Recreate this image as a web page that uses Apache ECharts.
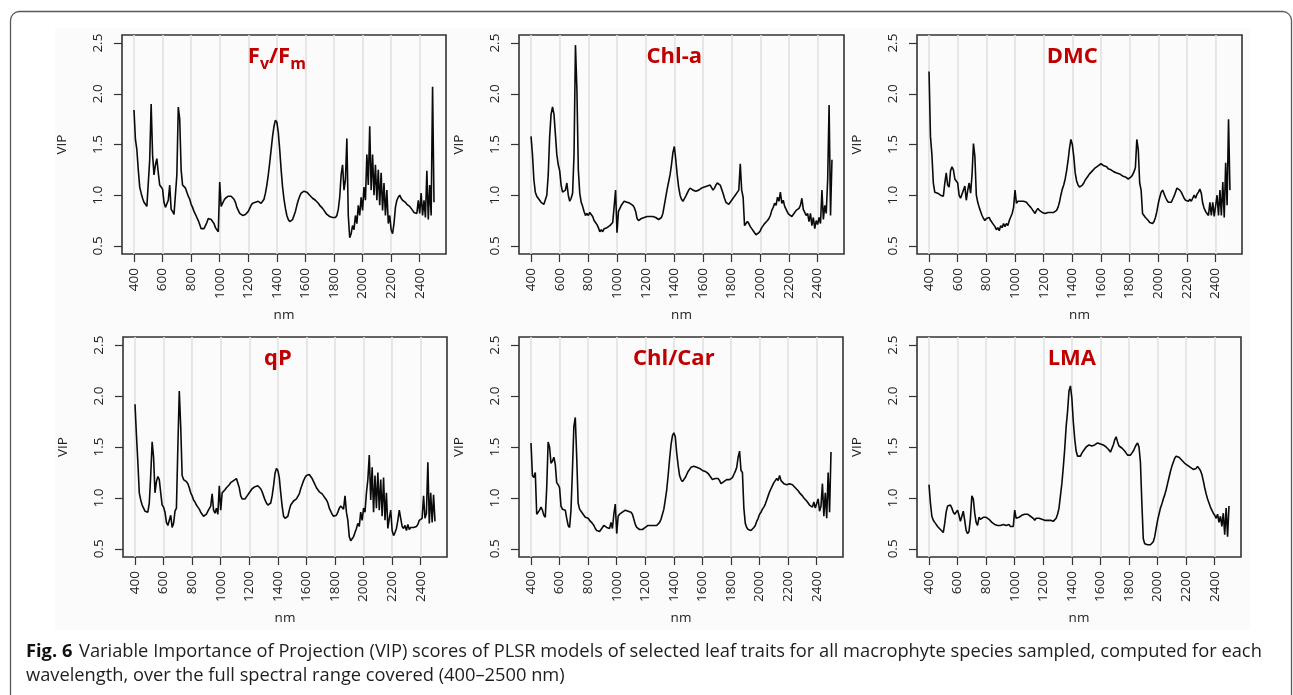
<!DOCTYPE html>
<html>
<head>
<meta charset="utf-8">
<script src="https://cdn.jsdelivr.net/npm/echarts@6/dist/echarts.min.js"></script>
<style>
  html, body { margin: 0; padding: 0; background: #fff; }
  #chart { width: 1293px; height: 695px; }
</style>
</head>
<body>
<div id="chart"></div>
<script>
// Wavelength grid (nm), one entry per VIP value
const wavelengths = [
  400, 410, 420, 430, 440, 450, 460, 470, 480, 490,
  500, 510, 520, 530, 540, 550, 560, 570, 580, 590,
  600, 610, 620, 630, 640, 650, 660, 670, 680, 690,
  700, 710, 720, 730, 740, 750, 760, 770, 780, 790,
  800, 810, 820, 830, 840, 850, 860, 870, 880, 890,
  900, 910, 920, 930, 940, 950, 960, 970, 980, 990,
  1000, 1010, 1020, 1030, 1040, 1050, 1060, 1070, 1080, 1090,
  1100, 1110, 1120, 1130, 1140, 1150, 1160, 1170, 1180, 1190,
  1200, 1210, 1220, 1230, 1240, 1250, 1260, 1270, 1280, 1290,
  1300, 1310, 1320, 1330, 1340, 1350, 1360, 1370, 1380, 1390,
  1400, 1410, 1420, 1430, 1440, 1450, 1460, 1470, 1480, 1490,
  1500, 1510, 1520, 1530, 1540, 1550, 1560, 1570, 1580, 1590,
  1600, 1610, 1620, 1630, 1640, 1650, 1660, 1670, 1680, 1690,
  1700, 1710, 1720, 1730, 1740, 1750, 1760, 1770, 1780, 1790,
  1800, 1810, 1820, 1830, 1840, 1850, 1860, 1870, 1880, 1890,
  1900, 1910, 1920, 1930, 1940, 1950, 1960, 1970, 1980, 1990,
  2000, 2010, 2020, 2030, 2040, 2050, 2060, 2070, 2080, 2090,
  2100, 2110, 2120, 2130, 2140, 2150, 2160, 2170, 2180, 2190,
  2200, 2210, 2220, 2230, 2240, 2250, 2260, 2270, 2280, 2290,
  2300, 2310, 2320, 2330, 2340, 2350, 2360, 2370, 2380, 2390,
  2400, 2410, 2420, 2430, 2440, 2450, 2460, 2470, 2480, 2490,
  2500
];

const xTicks = [400, 600, 800, 1000, 1200, 1400, 1600, 1800, 2000, 2200, 2400];
const yTicks = [0.5, 1.0, 1.5, 2.0, 2.5];

// VIP scores per trait
const vipFvFm = [
  1.84, 1.55, 1.45, 1.25, 1.08, 1.02, 0.97, 0.93, 0.91, 0.89,
  0.90, 1.35, 1.90, 1.40, 1.20, 1.30, 1.36, 1.22, 1.10, 1.08,
  1.06, 0.93, 0.88, 0.87, 0.95, 1.10, 0.86, 0.84, 0.81, 0.80,
  1.20, 1.87, 1.75, 1.25, 1.10, 1.09, 1.07, 1.03, 0.99, 0.96,
  0.91, 0.88, 0.84, 0.81, 0.78, 0.75, 0.71, 0.67, 0.66, 0.67,
  0.70, 0.73, 0.77, 0.78, 0.76, 0.77, 0.72, 0.68, 0.66, 0.64,
  1.13, 0.89, 0.92, 0.95, 0.97, 0.98, 0.99, 0.99, 0.99, 0.98,
  0.96, 0.93, 0.88, 0.85, 0.82, 0.81, 0.80, 0.80, 0.81, 0.82,
  0.84, 0.87, 0.90, 0.92, 0.93, 0.93, 0.93, 0.94, 0.93, 0.92,
  0.93, 0.96, 1.02, 1.10, 1.20, 1.32, 1.45, 1.58, 1.68, 1.74,
  1.72, 1.62, 1.45, 1.25, 1.08, 0.96, 0.87, 0.80, 0.76, 0.74,
  0.74, 0.76, 0.80, 0.84, 0.90, 0.95, 0.99, 1.02, 1.03, 1.04,
  1.04, 1.03, 1.02, 1.00, 0.99, 0.97, 0.96, 0.95, 0.94, 0.92,
  0.90, 0.89, 0.87, 0.85, 0.83, 0.81, 0.80, 0.79, 0.78, 0.78,
  0.77, 0.78, 0.80, 0.86, 0.98, 1.20, 1.30, 1.05, 1.15, 1.56,
  0.80, 0.58, 0.62, 0.70, 0.66, 0.80, 0.72, 0.90, 0.80, 0.98,
  0.85, 1.08, 0.95, 1.40, 1.10, 1.68, 1.05, 1.40, 1.00, 1.30,
  0.95, 1.25, 0.90, 1.22, 0.85, 1.12, 0.80, 1.05, 0.72, 0.80,
  0.66, 0.62, 0.72, 0.88, 0.95, 0.98, 1.00, 0.97, 0.95, 0.94,
  0.93, 0.91, 0.92, 0.89, 0.87, 0.85, 0.83, 0.84, 0.82, 0.95,
  0.82, 1.02, 0.80, 0.95, 0.78, 1.24, 0.76, 1.10, 0.80, 2.07,
  0.93
];

const vipChlA = [
  1.58, 1.40, 1.15, 1.03, 0.99, 0.97, 0.95, 0.93, 0.92, 0.91,
  0.92, 1.00, 1.20, 1.58, 1.80, 1.87, 1.80, 1.60, 1.40, 1.30,
  1.24, 1.10, 1.03, 1.02, 1.05, 1.12, 1.00, 0.94, 0.97, 1.02,
  1.40, 2.48, 2.05, 1.25, 1.02, 0.93, 0.89, 0.84, 0.80, 0.82,
  0.80, 0.83, 0.81, 0.79, 0.75, 0.73, 0.71, 0.68, 0.64, 0.66,
  0.64, 0.67, 0.66, 0.68, 0.67, 0.70, 0.69, 0.73, 0.72, 1.05,
  0.63, 0.84, 0.87, 0.90, 0.92, 0.94, 0.93, 0.93, 0.93, 0.92,
  0.91, 0.90, 0.88, 0.84, 0.77, 0.75, 0.76, 0.77, 0.77, 0.78,
  0.79, 0.79, 0.80, 0.79, 0.79, 0.79, 0.78, 0.78, 0.77, 0.76,
  0.77, 0.78, 0.82, 0.90, 0.98, 1.06, 1.13, 1.20, 1.30, 1.42,
  1.48, 1.35, 1.20, 1.08, 1.00, 0.96, 0.94, 0.95, 0.99, 1.02,
  1.05, 1.07, 1.06, 1.05, 1.04, 1.04, 1.05, 1.05, 1.06, 1.07,
  1.07, 1.08, 1.08, 1.09, 1.09, 1.10, 1.09, 1.05, 1.07, 1.10,
  1.12, 1.13, 1.10, 1.06, 1.02, 0.97, 0.93, 0.92, 0.91, 0.93,
  0.95, 0.97, 0.99, 1.01, 1.03, 1.05, 1.31, 1.05, 0.98, 0.70,
  0.72, 0.74, 0.72, 0.69, 0.67, 0.65, 0.63, 0.61, 0.61, 0.63,
  0.65, 0.68, 0.70, 0.72, 0.73, 0.75, 0.77, 0.80, 0.85, 0.88,
  0.92, 0.90, 0.98, 0.94, 1.03, 0.92, 0.95, 0.89, 0.86, 0.83,
  0.81, 0.80, 0.79, 0.81, 0.83, 0.85, 0.84, 0.87, 0.90, 0.97,
  0.86, 0.83, 0.80, 0.82, 0.74, 0.82, 0.70, 0.78, 0.67, 0.75,
  0.71, 0.78, 0.72, 1.05, 0.76, 0.90, 0.82, 1.15, 1.89, 0.80,
  1.35
];

const vipDMC = [
  2.22, 1.58, 1.40, 1.12, 1.03, 1.02, 1.02, 1.01, 1.00, 0.99,
  0.99, 1.12, 1.22, 1.10, 1.08, 1.24, 1.28, 1.25, 1.16, 1.14,
  1.12, 1.00, 0.97, 0.96, 1.05, 1.09, 0.95, 1.05, 1.12, 1.02,
  1.20, 1.51, 1.38, 1.00, 0.93, 0.88, 0.84, 0.80, 0.77, 0.75,
  0.77, 0.76, 0.78, 0.75, 0.76, 0.71, 0.69, 0.66, 0.68, 0.65,
  0.70, 0.68, 0.72, 0.69, 0.72, 0.70, 0.75, 0.74, 0.82, 0.88,
  1.05, 0.92, 0.94, 0.95, 0.94, 0.94, 0.94, 0.93, 0.93, 0.91,
  0.90, 0.88, 0.86, 0.84, 0.82, 0.85, 0.87, 0.85, 0.84, 0.83,
  0.83, 0.82, 0.82, 0.83, 0.83, 0.83, 0.83, 0.83, 0.84, 0.85,
  0.88, 0.93, 1.00, 1.06, 1.10, 1.16, 1.24, 1.34, 1.46, 1.55,
  1.50, 1.38, 1.22, 1.14, 1.10, 1.08, 1.09, 1.10, 1.12, 1.15,
  1.17, 1.19, 1.21, 1.22, 1.24, 1.25, 1.27, 1.28, 1.29, 1.30,
  1.31, 1.30, 1.29, 1.28, 1.28, 1.26, 1.25, 1.25, 1.24, 1.23,
  1.23, 1.22, 1.22, 1.21, 1.20, 1.19, 1.18, 1.18, 1.17, 1.16,
  1.15, 1.18, 1.20, 1.23, 1.27, 1.55, 1.45, 1.12, 1.05, 0.82,
  0.80, 0.78, 0.77, 0.75, 0.73, 0.72, 0.72, 0.74, 0.78, 0.84,
  0.92, 0.98, 1.03, 1.05, 1.04, 0.98, 0.95, 0.93, 0.92, 0.93,
  0.96, 0.99, 1.03, 1.07, 1.07, 1.05, 1.03, 1.00, 0.97, 0.95,
  0.95, 0.94, 0.96, 0.94, 0.97, 1.00, 0.97, 1.01, 1.03, 1.06,
  1.02, 0.92, 0.87, 0.84, 0.82, 0.80, 0.93, 0.80, 0.93, 0.79,
  0.78, 1.00, 0.80, 1.05, 0.80, 1.13, 0.78, 1.32, 0.90, 1.75,
  1.05
];

const vipQP = [
  1.92, 1.62, 1.35, 1.05, 0.98, 0.93, 0.90, 0.87, 0.86, 0.86,
  0.95, 1.22, 1.55, 1.40, 1.05, 1.16, 1.21, 1.18, 1.05, 0.93,
  0.91, 0.86, 0.76, 0.73, 0.72, 0.83, 0.71, 0.75, 0.87, 0.90,
  1.50, 2.05, 1.70, 1.22, 1.18, 1.17, 1.16, 1.14, 1.10, 1.05,
  1.02, 0.98, 0.96, 0.93, 0.91, 0.89, 0.86, 0.84, 0.82, 0.81,
  0.84, 0.87, 0.86, 0.92, 1.04, 0.88, 0.85, 0.90, 0.84, 1.12,
  0.88, 1.05, 1.06, 1.08, 1.10, 1.11, 1.13, 1.15, 1.16, 1.17,
  1.18, 1.19, 1.18, 1.10, 1.02, 0.99, 0.98, 0.99, 1.01, 1.03,
  1.05, 1.07, 1.09, 1.10, 1.11, 1.11, 1.12, 1.11, 1.09, 1.06,
  1.02, 0.98, 0.95, 0.93, 0.93, 0.95, 1.02, 1.12, 1.24, 1.29,
  1.27, 1.20, 1.05, 0.92, 0.82, 0.80, 0.79, 0.82, 0.88, 0.93,
  0.95, 0.97, 0.98, 0.99, 1.00, 1.04, 1.09, 1.13, 1.17, 1.20,
  1.22, 1.23, 1.23, 1.22, 1.19, 1.16, 1.13, 1.10, 1.08, 1.06,
  1.05, 1.04, 1.02, 1.00, 0.98, 0.95, 0.90, 0.87, 0.84, 0.82,
  0.82, 0.83, 0.86, 0.90, 0.92, 0.91, 0.89, 1.02, 0.86, 0.78,
  0.62, 0.58, 0.60, 0.62, 0.66, 0.70, 0.75, 0.72, 0.86, 0.78,
  0.90, 0.86, 1.05, 1.18, 1.42, 0.98, 1.30, 0.86, 1.22, 0.90,
  1.25, 0.88, 1.18, 0.82, 1.20, 0.78, 1.05, 0.70, 0.80, 0.88,
  0.68, 0.63, 0.66, 0.70, 0.78, 0.88, 0.80, 0.72, 0.70, 0.73,
  0.68, 0.74, 0.69, 0.71, 0.70, 0.71, 0.71, 0.72, 0.74, 0.78,
  0.79, 0.80, 1.02, 0.80, 0.85, 1.35, 0.75, 1.05, 0.76, 1.03,
  0.77
];

const vipChlCar = [
  1.54, 1.22, 1.20, 1.25, 0.84, 0.86, 0.88, 0.91, 0.88, 0.83,
  0.81, 1.10, 1.55, 1.50, 1.34, 1.36, 1.40, 1.33, 1.15, 1.13,
  1.10, 0.92, 0.89, 0.88, 0.88, 0.80, 0.73, 0.71, 0.88, 1.27,
  1.70, 1.79, 1.40, 0.95, 0.89, 0.87, 0.86, 0.83, 0.81, 0.80,
  0.80, 0.78, 0.77, 0.75, 0.73, 0.70, 0.68, 0.67, 0.67, 0.68,
  0.71, 0.73, 0.72, 0.71, 0.72, 0.70, 0.76, 0.70, 0.84, 0.94,
  0.65, 0.82, 0.84, 0.85, 0.86, 0.87, 0.88, 0.87, 0.87, 0.86,
  0.86, 0.84, 0.79, 0.74, 0.71, 0.70, 0.69, 0.68, 0.69, 0.70,
  0.71, 0.72, 0.73, 0.73, 0.73, 0.73, 0.73, 0.73, 0.73, 0.74,
  0.76, 0.79, 0.84, 0.89, 0.98, 1.08, 1.22, 1.38, 1.52, 1.61,
  1.64, 1.60, 1.44, 1.32, 1.22, 1.18, 1.16, 1.17, 1.20, 1.23,
  1.26, 1.28, 1.30, 1.31, 1.31, 1.30, 1.30, 1.29, 1.29, 1.28,
  1.27, 1.27, 1.26, 1.25, 1.24, 1.22, 1.20, 1.18, 1.18, 1.19,
  1.20, 1.19, 1.17, 1.14, 1.14, 1.16, 1.17, 1.18, 1.18, 1.18,
  1.19, 1.20, 1.23, 1.26, 1.30, 1.40, 1.46, 1.27, 1.25, 0.90,
  0.75, 0.71, 0.69, 0.68, 0.68, 0.69, 0.71, 0.73, 0.77, 0.80,
  0.84, 0.86, 0.89, 0.91, 0.94, 0.98, 1.02, 1.06, 1.09, 1.12,
  1.15, 1.17, 1.19, 1.17, 1.22, 1.17, 1.16, 1.14, 1.14, 1.13,
  1.13, 1.14, 1.14, 1.13, 1.12, 1.10, 1.09, 1.07, 1.05, 1.04,
  1.02, 1.00, 0.99, 0.97, 0.95, 0.93, 0.92, 0.91, 0.96, 0.90,
  0.89, 0.99, 0.87, 0.92, 1.14, 0.82, 1.05, 0.80, 1.25, 0.86,
  1.45
];

const vipLMA = [
  1.13, 0.95, 0.82, 0.78, 0.76, 0.74, 0.72, 0.71, 0.69, 0.68,
  0.66, 0.75, 0.86, 0.92, 0.93, 0.93, 0.90, 0.86, 0.84, 0.83,
  0.88, 0.83, 0.77, 0.78, 0.87, 0.78, 0.68, 0.65, 0.67, 0.80,
  1.02, 0.99, 0.85, 0.76, 0.73, 0.81, 0.79, 0.80, 0.81, 0.81,
  0.81, 0.80, 0.79, 0.78, 0.76, 0.75, 0.74, 0.73, 0.73, 0.73,
  0.73, 0.73, 0.74, 0.73, 0.73, 0.72, 0.74, 0.72, 0.73, 0.72,
  0.88, 0.80, 0.80, 0.81, 0.82, 0.83, 0.84, 0.84, 0.84, 0.84,
  0.83, 0.82, 0.81, 0.80, 0.78, 0.80, 0.81, 0.80, 0.79, 0.79,
  0.78, 0.78, 0.78, 0.78, 0.78, 0.78, 0.77, 0.77, 0.78, 0.80,
  0.84, 0.90, 1.02, 1.14, 1.30, 1.48, 1.70, 1.85, 2.05, 2.10,
  1.98, 1.75, 1.58, 1.46, 1.41, 1.40, 1.41, 1.44, 1.46, 1.48,
  1.50, 1.51, 1.52, 1.51, 1.51, 1.51, 1.52, 1.53, 1.54, 1.53,
  1.53, 1.52, 1.52, 1.51, 1.50, 1.49, 1.47, 1.45, 1.44, 1.52,
  1.57, 1.60, 1.55, 1.51, 1.50, 1.49, 1.48, 1.46, 1.44, 1.42,
  1.42, 1.42, 1.44, 1.46, 1.49, 1.52, 1.54, 1.50, 1.35, 0.95,
  0.60, 0.55, 0.54, 0.54, 0.53, 0.54, 0.55, 0.57, 0.62, 0.70,
  0.78, 0.84, 0.90, 0.94, 0.99, 1.03, 1.08, 1.14, 1.20, 1.26,
  1.31, 1.35, 1.39, 1.41, 1.41, 1.40, 1.39, 1.37, 1.36, 1.34,
  1.33, 1.32, 1.31, 1.30, 1.29, 1.28, 1.28, 1.29, 1.31, 1.30,
  1.27, 1.23, 1.17, 1.10, 1.04, 0.99, 0.95, 0.91, 0.88, 0.85,
  0.83, 0.80, 0.84, 0.76, 0.82, 0.72, 0.85, 0.64, 0.90, 0.62,
  0.92
];

// Panel layout: plot-box rectangles in pixels and the trait title markup
const FONT = '"Open Sans", "Liberation Sans", sans-serif';
const TITLE_RED = '#c00000';

const panels = [
  { title: '{a|F}{s|v}{a|/F}{s|m}', values: vipFvFm,  box: [122, 35, 324, 219] },
  { title: '{a|Chl-a}',             values: vipChlA,  box: [519, 35, 325, 219] },
  { title: '{a|DMC}',               values: vipDMC,   box: [917, 35, 325, 219] },
  { title: '{a|qP}',                values: vipQP,    box: [123, 337, 324, 220] },
  { title: '{a|Chl/Car}',           values: vipChlCar, box: [519, 337, 324, 220] },
  { title: '{a|LMA}',               values: vipLMA,   box: [917, 337, 324, 220] }
];

const X_MIN = 316, X_MAX = 2584;   // 400–2500 nm widened by 4 % on both sides
const Y_MIN = 0.42, Y_MAX = 2.58;  // 0.5–2.5 widened by 4 %

const grids = [], xAxes = [], yAxes = [], series = [], graphics = [];

// faint figure background and the rounded outer frame
graphics.push({
  type: 'rect', z: -5, silent: true,
  shape: { x: 55, y: 28, width: 1195, height: 602 },
  style: { fill: '#fbfbfb' }
});
graphics.push({
  type: 'rect', z: 20, silent: true,
  shape: { x: 10.5, y: 11.5, width: 1281, height: 760, r: 9 },
  style: { fill: 'none', stroke: '#5a5a5a', lineWidth: 1.3 }
});

const labelStyle = { fontFamily: FONT, fontSize: 13.5, color: '#222' };

panels.forEach((p, i) => {
  const [left, top, width, height] = p.box;
  grids.push({
    left, top, width, height,
    show: true, borderColor: '#333', borderWidth: 1.6,
    backgroundColor: 'transparent',
    containLabel: false, outerBoundsMode: 'none'
  });
  xAxes.push({
    type: 'value', gridIndex: i, min: X_MIN, max: X_MAX,
    name: 'nm', nameLocation: 'middle', nameGap: 54,
    nameTextStyle: labelStyle,
    axisLine: { show: false },
    axisTick: { show: true, customValues: xTicks, length: 8, inside: false,
                lineStyle: { color: '#333', width: 1.2 } },
    axisLabel: Object.assign({ customValues: xTicks, rotate: 90, margin: 14,
                 formatter: v => String(v) }, labelStyle),
    splitLine: { show: false }
  });
  yAxes.push({
    type: 'value', gridIndex: i, min: Y_MIN, max: Y_MAX,
    name: 'VIP', nameLocation: 'middle', nameGap: 53, nameRotate: 90,
    nameTextStyle: labelStyle,
    axisLine: { show: false },
    axisTick: { show: true, customValues: yTicks, length: 8, inside: false,
                lineStyle: { color: '#333', width: 1.2 } },
    axisLabel: Object.assign({ customValues: yTicks, rotate: 90, margin: 17,
                 formatter: v => v.toFixed(1) }, labelStyle),
    splitLine: { show: false }
  });
  series.push({
    type: 'line', xAxisIndex: i, yAxisIndex: i, z: 3,
    data: wavelengths.map((w, k) => [w, p.values[k]]),
    showSymbol: false, symbol: 'none', silent: true,
    lineStyle: { color: '#0a0a0a', width: 1.6 },
    markLine: {
      silent: true, z: 1, symbol: ['none', 'none'],
      label: { show: false },
      lineStyle: { color: '#e2e2e2', width: 1.6, type: 'solid' },
      data: xTicks.map(v => ({ xAxis: v }))
    }
  });
  // trait name, centred over 1400 nm
  const cx = left + (1400 - X_MIN) / (X_MAX - X_MIN) * width;
  graphics.push({
    type: 'text', z: 10, silent: true,
    x: cx, y: top + 24,
    style: {
      text: p.title, align: 'center', verticalAlign: 'middle',
      rich: {
        a: { fontFamily: FONT, fontSize: 22, fontWeight: 'bold', fill: TITLE_RED,
             lineHeight: 26, verticalAlign: 'top' },
        s: { fontFamily: FONT, fontSize: 16, fontWeight: 'bold', fill: TITLE_RED,
             lineHeight: 10, verticalAlign: 'bottom' }
      }
    }
  });
});

// figure caption
const CAPTION_SIZE = 18.3;
graphics.push({
  type: 'text', z: 10, silent: true, x: 26, y: 652,
  style: {
    text: '{b|Fig. 6}  {r|Variable Importance of Projection (VIP) scores of PLSR models of selected leaf traits for all macrophyte species sampled, computed for each}',
    verticalAlign: 'middle',
    rich: {
      b: { fontFamily: FONT, fontSize: CAPTION_SIZE, fontWeight: 'bold', fill: '#111' },
      r: { fontFamily: FONT, fontSize: CAPTION_SIZE, fill: '#1e1e1e' }
    }
  }
});
graphics.push({
  type: 'text', z: 10, silent: true, x: 26, y: 676,
  style: {
    text: 'wavelength, over the full spectral range covered (400–2500 nm)',
    fontFamily: FONT, fontSize: CAPTION_SIZE, fill: '#1e1e1e', verticalAlign: 'middle'
  }
});

const chart = echarts.init(document.getElementById('chart'), null, { renderer: 'canvas' });
chart.setOption({
  animation: false,
  backgroundColor: '#ffffff',
  grid: grids,
  xAxis: xAxes,
  yAxis: yAxes,
  series: series,
  graphic: { elements: graphics }
});
</script>
</body>
</html>
